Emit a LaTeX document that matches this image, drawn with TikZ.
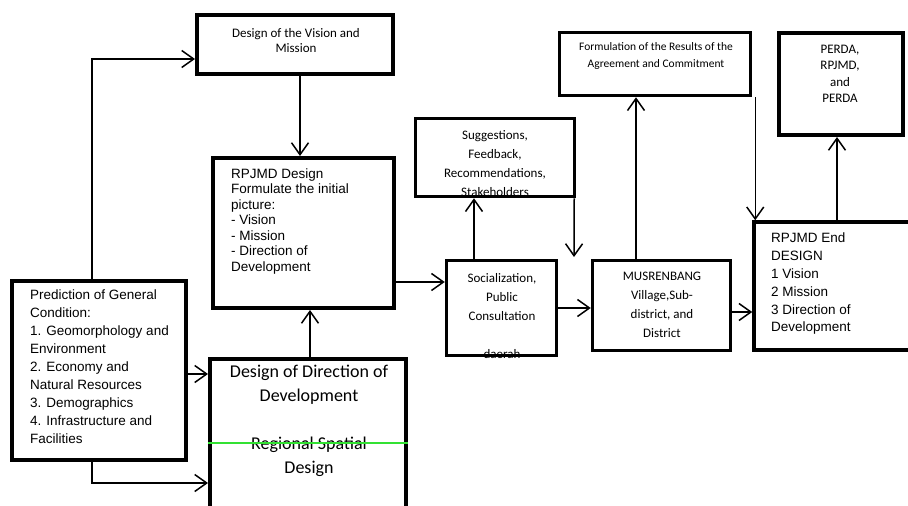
\documentclass[tikz,border=0pt]{standalone}
\usepackage{fontspec}
\setmainfont{Liberation Sans}
\newfontfamily\calib{Carlito}
\usepackage{xcolor}
\usepackage{tikz}
\usetikzlibrary{
  arrows.meta,
  calc}
\definecolor{lineGreen}{RGB}{50,225,50}

\begin{document}
\begin{tikzpicture}[x=1pt,y=-1pt,
  box/.style={draw,line width=3.5pt,inner sep=0pt},
  arr/.style={line width=1.5pt,-{Straight Barb[length=12pt,width=17pt]}},
  ctxt/.style={font=\calib\fontsize{13}{19}\selectfont,align=center,inner sep=0pt},
  atxt/.style={font=\fontsize{13.5}{15.5}\selectfont,align=left,anchor=north west,inner sep=0pt}]
  \useasboundingbox (0,0) rectangle (908,506);

  % texts
  \node[ctxt,font=\calib\fontsize{13}{15.5}\selectfont] (visiontext) at (296,40.5) {Design of the Vision and\\Mission};
  \node[atxt] (rpjmdtext) at (231,168.5) {RPJMD Design\\Formulate the initial\\picture:\\- Vision\\- Mission\\- Direction of\\Development};
  \node[atxt,font=\fontsize{13.5}{18}\selectfont] (predtext) at (30,290) {Prediction of General\\Condition:\\1. Geomorphology and\\Environment\\2. Economy and\\Natural Resources\\3. Demographics\\4. Infrastructure and\\Facilities};
  \node[ctxt,font=\calib\fontsize{18}{24}\selectfont] (dodtext) at (309,421) {Design of Direction of\\Development\\[24pt]Regional Spatial\\Design};
  \node[ctxt] (suggtext) at (495,163.5) {Suggestions,\\Feedback,\\Recommendations,\\Stakeholders};
  \node[ctxt] (sociotext) at (502,316) {Socialization,\\Public\\Consultation\\[19pt]daerah};
  \node[ctxt] (mustext) at (662,304.5) {MUSRENBANG\\Village,Sub-\\district, and\\District};
  \node[ctxt,font=\calib\fontsize{11.5}{16.5}\selectfont] (formtext) at (656,56) {Formulation of the Results of the\\Agreement and Commitment};
  \node[ctxt,font=\calib\fontsize{13}{16.5}\selectfont] (perdatext) at (840,74) {PERDA,\\RPJMD,\\and\\PERDA};
  \node[atxt,font=\fontsize{13.5}{17.8}\selectfont] (endtext) at (771,233) {RPJMD End\\DESIGN\\1 Vision\\2 Mission\\3 Direction of\\Development};

  % boxes
  \node[box,line width=4pt,minimum width=196pt,minimum height=59pt] (vision) at (295,44.5) {};
  \node[box,line width=4pt,minimum width=181pt,minimum height=150pt] (rpjmd) at (303.5,233) {};
  \node[box,line width=4pt,minimum width=174pt,minimum height=179pt] (pred) at (99,370.5) {};
  \node[box,line width=4pt,minimum width=196pt,minimum height=156pt] (dod) at (308,437) {};
  \node[box,minimum width=110pt,minimum height=95pt] (socio) at (501.5,308) {};
  \node[box,minimum width=159pt,minimum height=78pt] (sugg) at (495,157.5) {};
  \node[box,minimum width=138pt,minimum height=90pt] (mus) at (661.5,305.5) {};
  \node[box,minimum width=191pt,minimum height=63pt] (form) at (655,64) {};
  \node[box,line width=4pt,minimum width=124pt,minimum height=102pt] (perda) at (841,84) {};
  \node[box,minimum width=160pt,minimum height=128pt] (endd) at (834,286) {};
  \draw[lineGreen,line width=1.5pt] ([yshift=-6pt]dod.west) -- ([yshift=-6pt]dod.east);

  % connectors
  \coordinate (suggend) at (574,257);
  \draw[arr] ([xshift=-7pt]pred.north) |- ([yshift=-14.5pt]vision.west);
  \draw[arr] ([xshift=5pt]vision.south) -- ([xshift=5pt]vision.south |- rpjmd.north);
  \draw[arr] ([yshift=-3.5pt]pred.east) -- ([yshift=-3.5pt]pred.east -| dod.west);
  \draw[arr] ([xshift=-7pt]pred.south) |- ([yshift=-46pt]dod.west);
  \draw[arr] ([xshift=2pt]dod.north) -- ([xshift=2pt]dod.north |- rpjmd.south);
  \draw[arr] ([yshift=-49pt]rpjmd.east) -- ([yshift=-49pt]rpjmd.east -| socio.west);
  \draw[arr] ([xshift=-27.5pt]socio.north) -- ([xshift=-27.5pt]socio.north |- sugg.south);
  \draw[arr] ([xshift=-2pt]sugg.south east) -- (suggend);
  \draw[arr] (socio.east) -- (socio.east -| mus.west);
  \draw[arr] ([xshift=-25.5pt]mus.north) -- ([xshift=-25.5pt]mus.north |- form.south);
  \draw[arr] ([xshift=3pt]form.south east) -- ([xshift=3pt]form.south east |- endd.north);
  \draw[arr] ([yshift=-6.5pt]mus.east) -- ([yshift=-6.5pt]mus.east -| endd.west);
  \draw[arr] ([xshift=3pt]endd.north) -- ([xshift=3pt]endd.north |- perda.south);
\end{tikzpicture}
\end{document}
